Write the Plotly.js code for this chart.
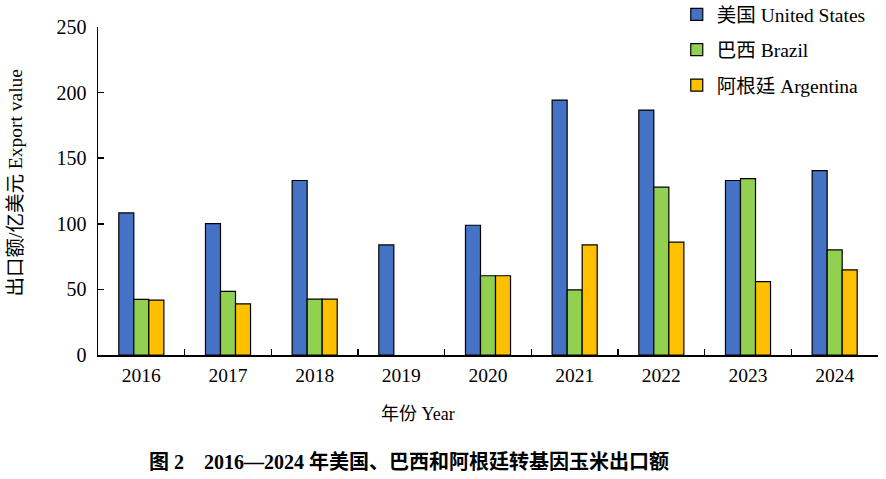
<!DOCTYPE html>
<html><head><meta charset="utf-8">
<script src="https://cdn.plot.ly/plotly-3.0.1.min.js"></script>
<style>body{margin:0;background:#fff}#chart{width:886px;height:479px}</style>
</head><body><div id="chart"></div>
<script>
const years = ['2016','2017','2018','2019','2020','2021','2022','2023','2024'];
const usValues = [108.3, 100.2, 133.0, 83.9, 98.9, 194.3, 186.7, 133.0, 140.6];
const brazilValues = [42.4, 48.5, 42.6, null, 60.4, 49.7, 127.9, 134.5, 80.1];
const argentinaValues = [41.9, 39.0, 42.6, null, 60.4, 83.9, 86.0, 56.0, 64.9];
const seriesNames = ['美国 United States', '巴西 Brazil', '阿根廷 Argentina'];
const seriesColors = ['#4472C4', '#92D050', '#FFC000'];
const yTicks = [0, 50, 100, 150, 200, 250];

const FONT = "'Liberation Serif', 'Times New Roman', 'Noto Sans CJK SC', serif";
const series = [usValues, brazilValues, argentinaValues];
const traces = series.map((vals, i) => ({
  type: 'bar', x: years, y: vals, name: seriesNames[i], legendgroup: 'g' + i,
  marker: {color: seriesColors[i], line: {color: '#000', width: 1.2}}
}));

const layout = {
  width: 886, height: 479,
  margin: {l: 98, r: 8, t: 27, b: 124, autoexpand: false},
  paper_bgcolor: '#fff', plot_bgcolor: '#fff',
  font: {family: FONT, size: 20, color: '#000'},
  barmode: 'group', bargap: 0.48, bargroupgap: 0,
  showlegend: true,
  legend: {x: 0.742, y: 1.097, xanchor: 'left', yanchor: 'top', bgcolor: 'rgba(0,0,0,0)',
           font: {family: FONT, size: 19.5}, tracegroupgap: 7, traceorder: 'grouped'},
  xaxis: {type: 'category', showline: true, linecolor: '#000', linewidth: 1.5,
          ticks: 'inside', tickson: 'boundaries', ticklen: 6, tickcolor: '#000', tickwidth: 1.5,
          showgrid: false, zeroline: false, ticklabelstandoff: 2,
          tickfont: {family: FONT, size: 19.5}},
  yaxis: {range: [0, 250], tickvals: yTicks, showline: true, linecolor: '#000', linewidth: 1.5,
          ticks: 'inside', ticklen: 6, tickcolor: '#000', tickwidth: 1.5,
          showgrid: false, zeroline: false, ticklabelstandoff: 6,
          tickfont: {family: FONT, size: 20}},
  annotations: [
    {text: '出口额/亿美元 Export value', xref: 'paper', yref: 'paper', x: -0.106, y: 0.524,
     xanchor: 'center', yanchor: 'middle',
     textangle: -90, showarrow: false, font: {family: FONT, size: 19.5}},
    {text: '年份 Year', xref: 'paper', yref: 'paper', x: 0.41, y: -0.18,
     xanchor: 'center', yanchor: 'middle',
     showarrow: false, font: {family: FONT, size: 18}},
    {text: '<b>图 2　2016—2024 年美国、巴西和阿根廷转基因玉米出口额</b>', xref: 'paper', yref: 'paper',
     x: 0.399, y: -0.326, xanchor: 'center', yanchor: 'middle',
     showarrow: false, font: {family: FONT, size: 20}}
  ]
};
Plotly.newPlot('chart', traces, layout, {displayModeBar: false, staticPlot: true});
</script></body></html>
